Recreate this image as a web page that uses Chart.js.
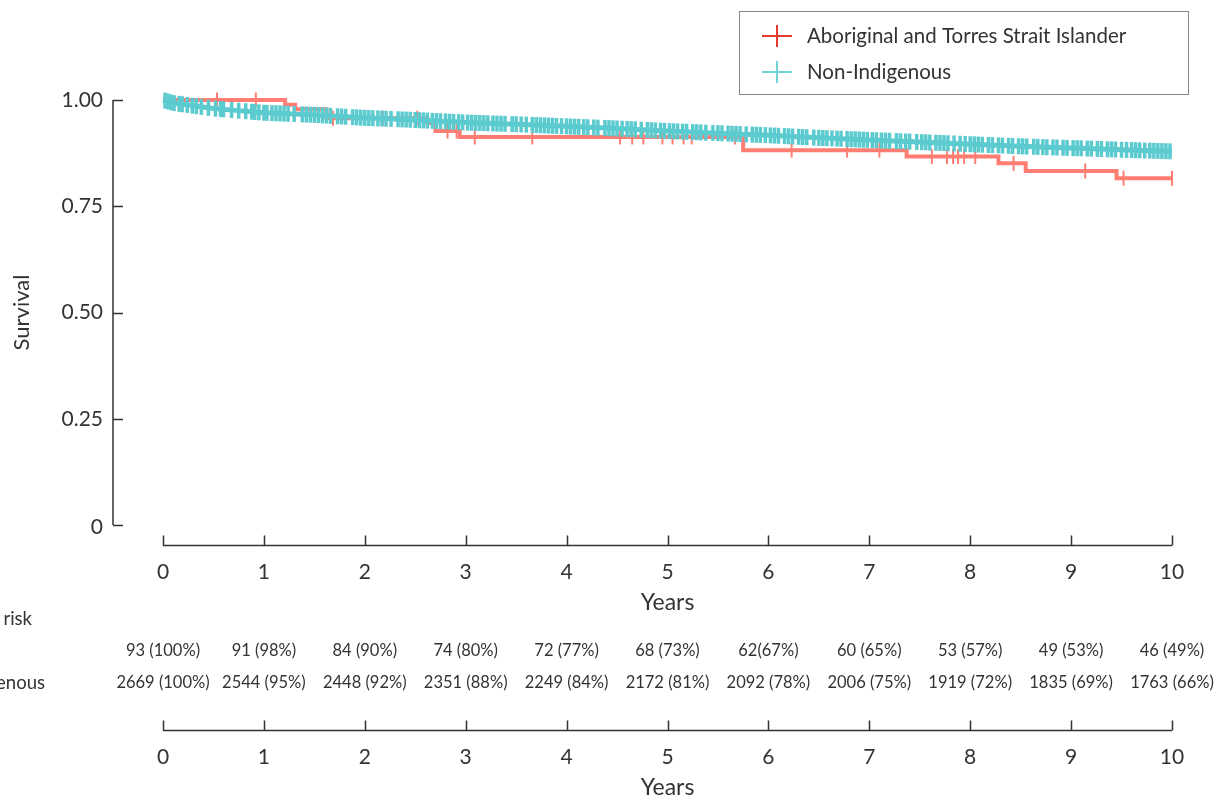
<!DOCTYPE html>
<html>
<head>
<meta charset="utf-8">
<script src="https://cdn.jsdelivr.net/npm/chart.js@4"></script>
<style>
  html, body { margin: 0; padding: 0; background: #fff; }
  #km { display: block; }
</style>
</head>
<body>
<canvas id="km" width="1216" height="800"></canvas>
<script>
// Kaplan-Meier survival
const seriesNames = ["Aboriginal and Torres Strait Islander", "Non-Indigenous"];

// Aboriginal and Torres Strait Islander: step times (years) and survival after each step
const indigTimes = [0, 1.21, 1.31, 1.62, 2.62, 2.70, 2.94, 5.75, 7.37, 8.28, 8.55, 9.45, 10.0];
const indigSurv  = [1.0, 0.989, 0.978, 0.957, 0.946, 0.927, 0.913, 0.882, 0.867, 0.851, 0.833, 0.816, 0.816];
const indigCensor = [0.535, 0.92, 1.685, 2.18, 2.52, 2.82, 2.91, 3.09, 3.66, 4.53, 4.65, 4.76, 4.95,
  5.05, 5.16, 5.24, 5.67, 6.23, 6.78, 7.10, 7.62, 7.77, 7.83, 7.88, 7.94, 8.05, 8.43, 9.14, 9.52, 10.0];

// Non-Indigenous: survival read at these times
const nonTimes = [0, 0.1, 0.25, 0.5, 0.75, 1.0, 1.5, 2.0, 2.5, 3.0, 3.5, 4.0, 4.5, 5.0, 5.5, 6.0,
  6.5, 7.0, 7.5, 8.0, 8.5, 9.0, 9.5, 10.0];
const nonSurv = [1.0, 0.993, 0.988, 0.980, 0.975, 0.970, 0.965, 0.958, 0.953, 0.947, 0.943, 0.938,
  0.933, 0.927, 0.922, 0.917, 0.911, 0.906, 0.901, 0.896, 0.891, 0.887, 0.883, 0.879];
const nonCensor = [
  0.02, 0.05, 0.08, 0.11, 0.16, 0.19, 0.24, 0.29, 0.33, 0.38, 0.45, 0.52, 0.57, 0.6, 0.68, 0.75, 0.82, 0.88, 0.91, 0.95,
  1.0, 1.03, 1.08, 1.12, 1.16, 1.2, 1.24, 1.3, 1.38, 1.42, 1.46, 1.5, 1.54, 1.58, 1.62, 1.66, 1.73, 1.77, 1.81, 1.88, 1.92, 1.96,
  2.0, 2.04, 2.08, 2.13, 2.17, 2.21, 2.26, 2.33, 2.37, 2.41, 2.45, 2.5, 2.54, 2.58, 2.62, 2.67, 2.71, 2.75, 2.8, 2.84, 2.88, 2.93, 2.97,
  3.02, 3.06, 3.1, 3.14, 3.18, 3.22, 3.27, 3.31, 3.35, 3.39, 3.46, 3.5, 3.55, 3.6, 3.66, 3.7, 3.74, 3.78, 3.82, 3.86, 3.9, 3.95,
  4.0, 4.04, 4.08, 4.12, 4.17, 4.21, 4.27, 4.31, 4.38, 4.42, 4.46, 4.5, 4.55, 4.6, 4.64, 4.68, 4.74, 4.8, 4.84, 4.88, 4.93, 4.97,
  5.02, 5.06, 5.1, 5.15, 5.19, 5.25, 5.29, 5.33, 5.38, 5.45, 5.5, 5.54, 5.6, 5.64, 5.68, 5.72, 5.78, 5.84, 5.88, 5.92, 5.97,
  6.02, 6.06, 6.1, 6.16, 6.2, 6.24, 6.3, 6.34, 6.38, 6.45, 6.5, 6.54, 6.58, 6.63, 6.68, 6.72, 6.78, 6.82, 6.86, 6.9, 6.94, 6.98,
  7.03, 7.07, 7.12, 7.16, 7.2, 7.27, 7.31, 7.36, 7.4, 7.47, 7.52, 7.56, 7.6, 7.66, 7.7, 7.74, 7.78, 7.84, 7.9, 7.95,
  8.0, 8.04, 8.08, 8.12, 8.18, 8.22, 8.28, 8.32, 8.38, 8.42, 8.48, 8.52, 8.56, 8.63, 8.67, 8.72, 8.76, 8.82, 8.86, 8.92, 8.96,
  9.02, 9.06, 9.1, 9.16, 9.2, 9.26, 9.3, 9.36, 9.4, 9.44, 9.5, 9.55, 9.6, 9.64, 9.68, 9.73, 9.78, 9.82, 9.86, 9.9, 9.94, 9.98
];

// axis ticks and number-at-risk table
const yearTicks = [0, 1, 2, 3, 4, 5, 6, 7, 8, 9, 10];
const survTicks = [0, 0.25, 0.5, 0.75, 1.0];
const survTickLabels = ["0", "0.25", "0.50", "0.75", "1.00"];
const riskIndig = ["93 (100%)", "91 (98%)", "84 (90%)", "74 (80%)", "72 (77%)", "68 (73%)",
  "62(67%)", "60 (65%)", "53 (57%)", "49 (53%)", "46 (49%)"];
const riskNon = ["2669 (100%)", "2544 (95%)", "2448 (92%)", "2351 (88%)", "2249 (84%)", "2172 (81%)",
  "2092 (78%)", "2006 (75%)", "1919 (72%)", "1835 (69%)", "1763 (66%)"];

const RED = "#ff7d73";
const RED_KEY = "#e63a30";
const TEAL = "#5ccbd0";
const TEAL_KEY = "#6fd5da";
const INK = "#333333";
const FONT = "Lato, 'Open Sans', sans-serif";

function stepAt(times, surv, t) {
  let v = surv[0];
  for (let i = 0; i < times.length; i++) if (times[i] <= t) v = surv[i];
  return v;
}
function lineAt(times, surv, t) {
  for (let i = 1; i < times.length; i++) {
    if (t <= times[i]) {
      const f = (t - times[i - 1]) / (times[i] - times[i - 1]);
      return surv[i - 1] + f * (surv[i] - surv[i - 1]);
    }
  }
  return surv[surv.length - 1];
}

const axesPlugin = {
  id: "kmAxes",
  afterDraw(chart) {
    const ctx = chart.ctx;
    const xs = chart.scales.x, ys = chart.scales.y;
    const x0 = xs.getPixelForValue(0), x10 = xs.getPixelForValue(10);
    ctx.save();
    ctx.strokeStyle = INK;
    ctx.fillStyle = INK;
    ctx.lineWidth = 1.5;

    // y axis, offset to the left of the data
    const ax = x0 - 50;
    ctx.beginPath();
    ctx.moveTo(ax, ys.getPixelForValue(1));
    ctx.lineTo(ax, ys.getPixelForValue(0));
    survTicks.forEach(v => {
      const py = Math.round(ys.getPixelForValue(v)) + 0.5;
      ctx.moveTo(ax, py);
      ctx.lineTo(ax + 10, py);
    });
    ctx.stroke();
    ctx.font = "21px " + FONT;
    ctx.textAlign = "right";
    ctx.textBaseline = "middle";
    survTicks.forEach((v, i) => {
      ctx.fillText(survTickLabels[i], ax - 10, ys.getPixelForValue(v) + (v === 0 ? 2 : 0));
    });
    ctx.save();
    ctx.translate(22, (ys.getPixelForValue(0) + ys.getPixelForValue(1)) / 2);
    ctx.rotate(-Math.PI / 2);
    ctx.textAlign = "center";
    ctx.font = "22px " + FONT;
    ctx.fillText("Survival", 0, 0);
    ctx.restore();

    // two x axes: one under the plot, one under the risk table
    function xAxis(lineY) {
      ctx.beginPath();
      ctx.moveTo(x0, lineY);
      ctx.lineTo(x10, lineY);
      yearTicks.forEach(t => {
        const px = Math.round(xs.getPixelForValue(t)) + 0.5;
        ctx.moveTo(px, lineY);
        ctx.lineTo(px, lineY - 10);
      });
      ctx.stroke();
      ctx.font = "21px " + FONT;
      ctx.textAlign = "center";
      ctx.textBaseline = "middle";
      yearTicks.forEach(t => ctx.fillText(String(t), xs.getPixelForValue(t), lineY + 27));
      ctx.font = "23px " + FONT;
      ctx.fillText("Years", (x0 + x10) / 2, lineY + 57);
    }
    xAxis(545.5);
    xAxis(730.5);

    // number at risk
    ctx.font = "18.5px " + FONT;
    ctx.textAlign = "right";
    ctx.fillText("Number at risk", 32, 619);
    ctx.fillText("Non-Indigenous", 45, 683);
    ctx.font = "16.5px " + FONT;
    ctx.textAlign = "center";
    yearTicks.forEach((t, i) => {
      const px = xs.getPixelForValue(t);
      ctx.fillText(riskIndig[i], px, 651);
      ctx.fillText(riskNon[i], px, 683);
    });

    // legend
    ctx.lineWidth = 1;
    ctx.strokeStyle = "#888888";
    ctx.strokeRect(739.5, 11.5, 449, 83);
    const keys = [[RED_KEY, 36], [TEAL_KEY, 72]];
    ctx.lineWidth = 2;
    keys.forEach(([c, y], i) => {
      ctx.strokeStyle = c;
      ctx.beginPath();
      ctx.moveTo(762, y);
      ctx.lineTo(792, y);
      ctx.moveTo(777, y - 11);
      ctx.lineTo(777, y + 11);
      ctx.stroke();
      ctx.fillStyle = INK;
      ctx.font = "20.5px " + FONT;
      ctx.textAlign = "left";
      ctx.fillText(seriesNames[i], 807, y);
    });
    ctx.restore();
  }
};

new Chart(document.getElementById("km"), {
  type: "scatter",
  data: {
    datasets: [
      {
        label: seriesNames[1] + " censored",
        data: nonCensor.map(t => ({ x: t, y: lineAt(nonTimes, nonSurv, t) })),
        showLine: false,
        pointStyle: "line",
        rotation: 90,
        pointRadius: 8,
        pointBorderWidth: 3.5,
        borderColor: TEAL,
        backgroundColor: TEAL,
        clip: false,
        order: 0
      },
      {
        label: seriesNames[1],
        data: nonTimes.map((t, i) => ({ x: t, y: nonSurv[i] })),
        showLine: true,
        borderColor: TEAL,
        borderWidth: 5,
        pointRadius: 0,
        clip: false,
        order: 1
      },
      {
        label: seriesNames[0] + " censored",
        data: indigCensor.map(t => ({ x: t, y: stepAt(indigTimes, indigSurv, t) })),
        showLine: false,
        pointStyle: "line",
        rotation: 90,
        pointRadius: 7.5,
        pointBorderWidth: 2,
        borderColor: RED,
        backgroundColor: RED,
        clip: false,
        order: 2
      },
      {
        label: seriesNames[0],
        data: indigTimes.map((t, i) => ({ x: t, y: indigSurv[i] })),
        showLine: true,
        stepped: "before",
        borderColor: RED,
        borderWidth: 4,
        pointRadius: 0,
        clip: false,
        order: 3
      }
    ]
  },
  options: {
    responsive: false,
    animation: false,
    devicePixelRatio: 1,
    layout: { padding: { left: 163, right: 44, top: 100, bottom: 275 } },
    scales: {
      x: { type: "linear", min: 0, max: 10, display: false },
      y: { type: "linear", min: 0, max: 1, display: false }
    },
    plugins: {
      legend: { display: false },
      tooltip: { enabled: false }
    }
  },
  plugins: [axesPlugin]
});
</script>
</body>
</html>
